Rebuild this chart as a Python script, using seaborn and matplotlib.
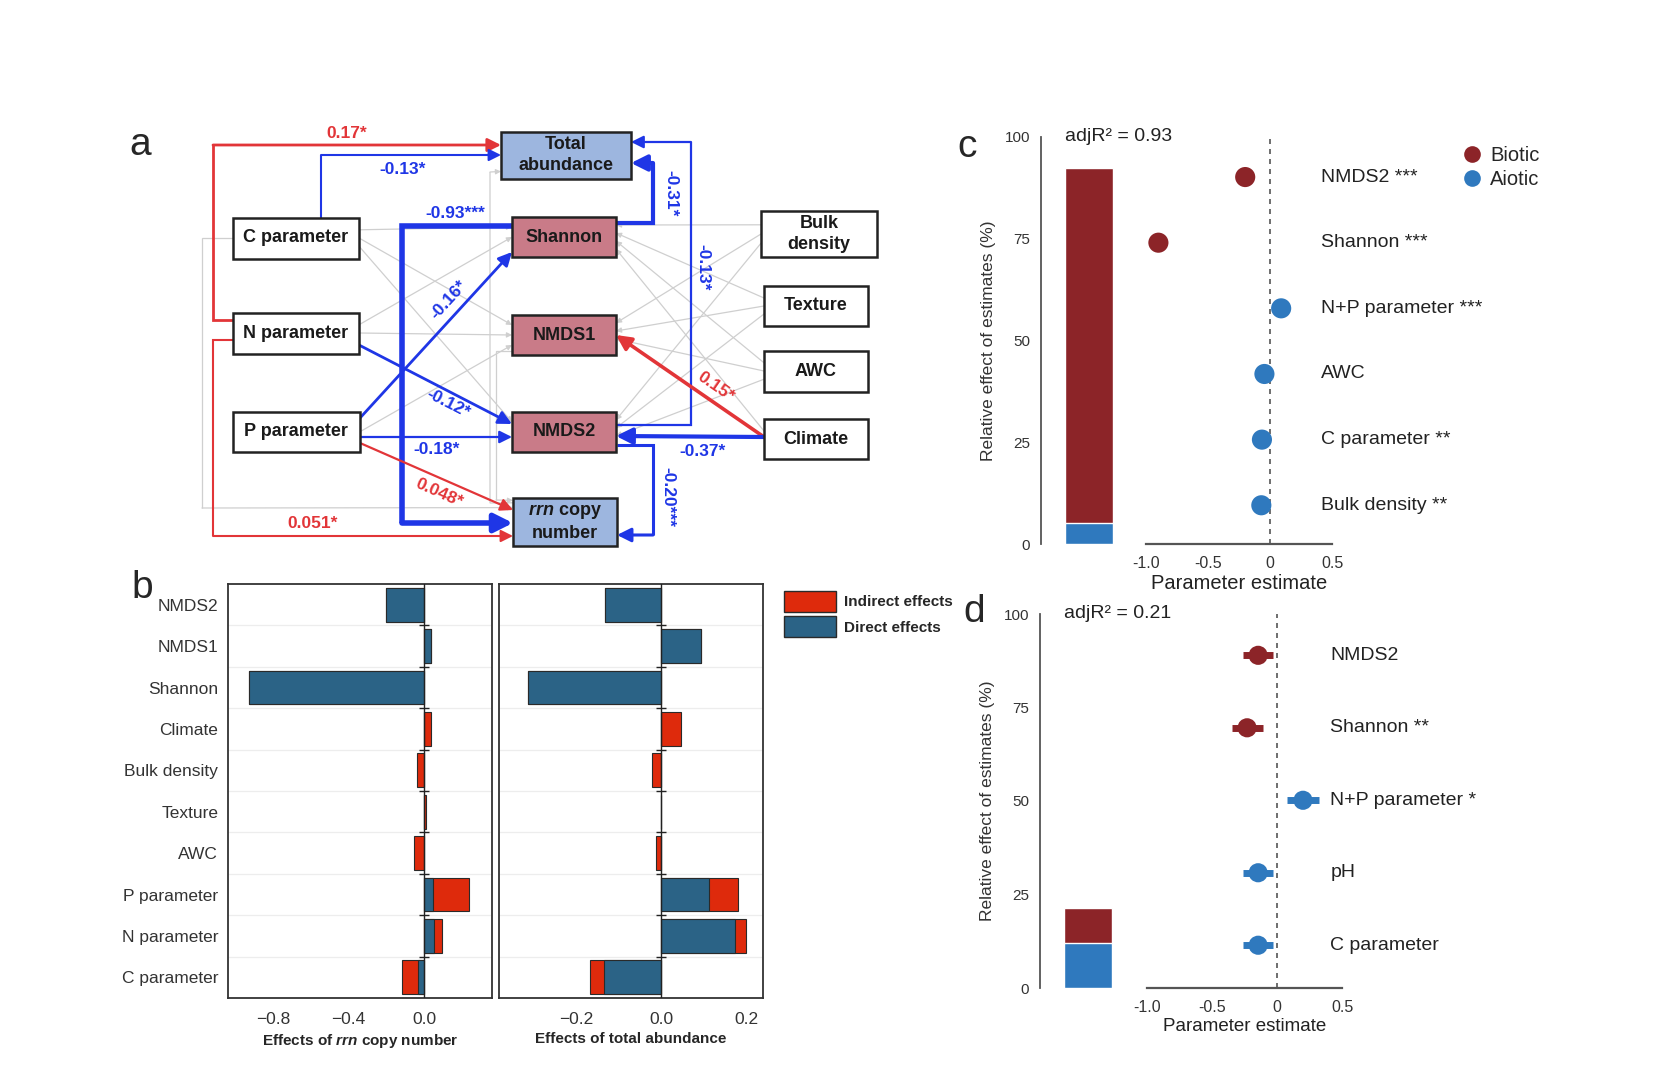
import matplotlib
matplotlib.use("Agg")
import matplotlib.pyplot as plt
import matplotlib.font_manager as fm
from matplotlib.patches import Rectangle, Patch
from matplotlib.lines import Line2D
import numpy as np
import pandas as pd
import seaborn as sns

# ---- data -------------------------------------------------------------
# panel b: direct / indirect standardized effects
factors = ["NMDS2", "NMDS1", "Shannon", "Climate", "Bulk density", "Texture",
           "AWC", "P parameter", "N parameter", "C parameter"]
rrn_direct = [-0.20, 0.037, -0.93, 0.0, 0.0, 0.0, 0.0, 0.048, 0.051, -0.033]
rrn_indirect = [0.0, 0.0, 0.0, 0.035, -0.04, 0.012, -0.055, 0.19, 0.045, -0.085]
abund_direct = [-0.131, 0.094, -0.313, 0.0, 0.0, 0.0, 0.0, 0.113, 0.174, -0.134]
abund_indirect = [0.0, 0.0, 0.0, 0.047, -0.02, 0.001, -0.011, 0.069, 0.026, -0.033]

# panel c: model of rrn copy number
c_labels = ["NMDS2 ***", "Shannon ***", "N+P parameter ***", "AWC",
            "C parameter **", "Bulk density **"]
c_group = ["Biotic", "Biotic", "Aiotic", "Aiotic", "Aiotic", "Aiotic"]
c_est = [-0.20, -0.90, 0.09, -0.045, -0.065, -0.07]
c_err = [0.03, 0.03, 0.03, 0.03, 0.03, 0.03]
c_share = {"Biotic": 87.3, "Aiotic": 5.2}
c_r2 = "0.93"

# panel d: model of total abundance
d_labels = ["NMDS2", "Shannon **", "N+P parameter *", "pH", "C parameter"]
d_group = ["Biotic", "Biotic", "Aiotic", "Aiotic", "Aiotic"]
d_est = [-0.145, -0.23, 0.20, -0.145, -0.145]
d_err = [0.115, 0.12, 0.12, 0.115, 0.115]
d_share = {"Biotic": 9.4, "Aiotic": 12.0}
d_r2 = "0.21"

# panel a: path coefficients (src, dst, label, sign)
sig_paths = [
    ("N parameter", "Total abundance", "0.17*", "pos"),
    ("N parameter", "rrn copy number", "0.051*", "pos"),
    ("C parameter", "Total abundance", "-0.13*", "neg"),
    ("Shannon", "rrn copy number", "-0.93***", "neg"),
    ("P parameter", "Shannon", "-0.16*", "neg"),
    ("N parameter", "NMDS2", "-0.12*", "neg"),
    ("P parameter", "NMDS2", "-0.18*", "neg"),
    ("P parameter", "rrn copy number", "0.048*", "pos"),
    ("Shannon", "Total abundance", "-0.31*", "neg"),
    ("NMDS2", "Total abundance", "-0.13*", "neg"),
    ("Climate", "NMDS1", "0.15*", "pos"),
    ("Climate", "NMDS2", "-0.37*", "neg"),
    ("NMDS2", "rrn copy number", "-0.20***", "neg"),
]

# ---- style --------------------------------------------------------------
sns.set_style("white")
plt.rcParams["font.family"] = ["Liberation Sans", "DejaVu Sans"]
plt.rcParams["mathtext.fontset"] = "custom"
plt.rcParams["mathtext.it"] = "Liberation Sans:italic:bold"
plt.rcParams["mathtext.rm"] = "Liberation Sans:bold"

installed = {f.name for f in fm.fontManager.ttflist}
NARROW = "Liberation Sans Narrow" if "Liberation Sans Narrow" in installed else "Liberation Sans"

RED_B = "#DE2A0C"
BLUE_B = "#2B6386"
BIOTIC = "#8C2428"
ABIOTIC = "#2F79BE"
LINE_BLUE = "#1F36E6"
LINE_RED = "#E23538"
BOX_BLUE = "#9DB6DF"
BOX_RED = "#C97B88"
GREY = "#CFCFCF"

W, H = 1672, 1080
fig = plt.figure(figsize=(W / 100, H / 100), dpi=100)


def px_rect(x0, y0, x1, y1):
    return [x0 / W, 1 - y1 / H, (x1 - x0) / W, (y1 - y0) / H]


# ---- panel a: path diagram ---------------------------------------------
ax_a = fig.add_axes([0, 0, 1, 1])
ax_a.set_xlim(0, W)
ax_a.set_ylim(H, 0)
ax_a.axis("off")

# layout: centre x, centre y, width, height (pixels)
node_box = {
    "Total abundance": (566, 155, 130, 47),
    "Shannon": (564, 237, 104, 40),
    "NMDS1": (564, 335, 104, 40),
    "NMDS2": (564, 432, 104, 40),
    "rrn copy number": (565, 522, 104, 48),
    "C parameter": (296, 238, 126, 41),
    "N parameter": (296, 333, 126, 41),
    "P parameter": (296, 432, 127, 40),
    "Bulk density": (819, 234, 116, 46),
    "Texture": (816, 306, 104, 40),
    "AWC": (816, 371, 104, 41),
    "Climate": (816, 439, 104, 40),
}
node_fill = {"Total abundance": BOX_BLUE, "rrn copy number": BOX_BLUE,
             "Shannon": BOX_RED, "NMDS1": BOX_RED, "NMDS2": BOX_RED}
node_text = {"Total abundance": "Total\nabundance",
             "rrn copy number": "$\\it{rrn}$ copy\nnumber",
             "Bulk density": "Bulk\ndensity"}


def side(node, s, f=0.5):
    cx, cy, w, h = node_box[node]
    if s == "L":
        return (cx - w / 2, cy - h / 2 + f * h)
    if s == "R":
        return (cx + w / 2, cy - h / 2 + f * h)
    if s == "T":
        return (cx - w / 2 + f * w, cy - h / 2)
    return (cx - w / 2 + f * w, cy + h / 2)


def draw_path(pts, color, lw, ms, z=2):
    xs, ys = zip(*pts)
    if len(pts) > 2:
        ax_a.plot(xs[:-1], ys[:-1], color=color, lw=lw, zorder=z,
                  solid_joinstyle="miter", solid_capstyle="butt")
    ax_a.annotate("", xy=pts[-1], xytext=pts[-2], zorder=z,
                  arrowprops=dict(arrowstyle="-|>,head_length=0.5,head_width=0.25",
                                  color=color, lw=lw, shrinkA=0, shrinkB=0,
                                  mutation_scale=ms))


# non significant paths (grey)
left_src = ["C parameter", "N parameter", "P parameter"]
right_src = ["Bulk density", "Texture", "AWC", "Climate"]
mid = ["Shannon", "NMDS1", "NMDS2"]
sig_pairs = {(s, d) for s, d, _, _ in sig_paths}
for i, s in enumerate(left_src):
    for j, d in enumerate(mid):
        if (s, d) in sig_pairs:
            continue
        draw_path([side(s, "R", 0.3 + 0.2 * j), side(d, "L", 0.25 + 0.25 * i)], GREY, 0.9, 6, z=1)
for i, s in enumerate(right_src):
    for j, d in enumerate(mid):
        if (s, d) in sig_pairs:
            continue
        draw_path([side(s, "L", 0.3 + 0.2 * j), side(d, "R", 0.2 + 0.2 * i)], GREY, 0.9, 6, z=1)
draw_path([side("C parameter", "L", 0.5), (202, 238), (202, 508), side("rrn copy number", "L", 0.2)], GREY, 0.9, 6, z=1)
draw_path([side("rrn copy number", "L", 0.1), (490, 503), (490, 172), side("Total abundance", "L", 0.85)], GREY, 0.9, 6, z=1)
draw_path([side("NMDS1", "L", 0.9), (496, 351), (496, 500), side("rrn copy number", "L", 0.05)], GREY, 0.9, 6, z=1)

# significant paths: route, label position, rotation, width
routes = {
    ("N parameter", "Total abundance"): ([(233, 320), (213, 320), (213, 145), (501, 145)], (347, 133), 0, 2.0),
    ("N parameter", "rrn copy number"): ([(233, 340), (213, 340), (213, 536), (513, 536)], (313, 524), 0, 1.5),
    ("C parameter", "Total abundance"): ([(321, 218), (321, 155), (501, 155)], (403, 169), 0, 1.5),
    ("Shannon", "rrn copy number"): ([(512, 226), (402, 226), (402, 523), (513, 523)], (455, 214), 0, 4.0),
    ("P parameter", "Shannon"): ([(360, 418), (512, 252)], (449, 300), 47.5, 2.0),
    ("N parameter", "NMDS2"): ([(359, 345), (512, 424)], (448, 404), -27, 2.0),
    ("P parameter", "NMDS2"): ([(360, 437), (512, 437)], (437, 449), 0, 1.6),
    ("P parameter", "rrn copy number"): ([(360, 443), (513, 510)], (439, 493), -24, 1.6),
    ("Shannon", "Total abundance"): ([(616, 223), (653, 223), (653, 163), (631, 163)], (671, 193), -90, 3.0),
    ("NMDS2", "Total abundance"): ([(616, 425), (691, 425), (691, 142), (631, 142)], (703, 267), -90, 1.6),
    ("Climate", "NMDS1"): ([(764, 437), (616, 335)], (716, 387), -34.6, 2.6),
    ("Climate", "NMDS2"): ([(764, 437), (616, 436)], (703, 451), 0, 3.0),
    ("NMDS2", "rrn copy number"): ([(617, 445), (653, 445), (653, 535), (617, 535)], (668, 497), -90, 2.2),
}
for s, d, lab, sign in sig_paths:
    pts, lpos, rot, lw = routes[(s, d)]
    col = LINE_RED if sign == "pos" else LINE_BLUE
    draw_path(pts, col, lw, 10 + 3 * lw, z=3)
    ax_a.text(lpos[0], lpos[1], lab, color=col, fontsize=12.5, fontweight="bold",
              rotation=rot, rotation_mode="anchor" if rot else "default",
              ha="center", va="center", zorder=6)

for name, (cx, cy, w, h) in node_box.items():
    ax_a.add_patch(Rectangle((cx - w / 2, cy - h / 2), w, h, facecolor=node_fill.get(name, "white"),
                             edgecolor="#222222", lw=1.8, zorder=5))
    ax_a.text(cx, cy, node_text.get(name, name), ha="center", va="center", fontsize=13,
              fontweight="bold", color="#1a1a1a", linespacing=1.25, zorder=6)

# panel letters
ax_a.text(140, 145, "a", fontsize=28, ha="center", va="center")
ax_a.text(142, 588, "b", fontsize=28, ha="center", va="center")
ax_a.text(967, 147, "c", fontsize=28, ha="center", va="center")
ax_a.text(974, 612, "d", fontsize=28, ha="center", va="center")

# ---- panel b: direct / indirect effects --------------------------------
def effect_panel(ax, direct, indirect, xlim, major, minor, xlabel, show_y):
    df = pd.DataFrame({"factor": factors, "direct": direct, "indirect": indirect})
    df["total"] = df["direct"] + df["indirect"]
    ax.hlines(np.arange(0.5, len(factors) - 1), xlim[0], xlim[1], color="#EDEDED", lw=0.9, zorder=0)
    sns.barplot(data=df, x="total", y="factor", order=factors, orient="h", color=RED_B,
                saturation=1, edgecolor="#2a2a2a", linewidth=0.8, width=0.82, errorbar=None, ax=ax)
    sns.barplot(data=df, x="direct", y="factor", order=factors, orient="h", color=BLUE_B,
                saturation=1, edgecolor="#2a2a2a", linewidth=0.8, width=0.82, errorbar=None, ax=ax)
    ax.axvline(0, color="#222222", lw=1.0, zorder=3)
    ax.plot(np.zeros(len(factors) - 1), np.arange(0.5, len(factors) - 1), ls="none",
            marker="_", ms=7, mew=1.0, color="#222222", zorder=4)
    ax.set_xlim(*xlim)
    ax.set_ylim(len(factors) - 0.5, -0.5)
    ax.set_xticks(major)
    ax.set_xticklabels([f"{v:.1f}".replace("-", "\u2212") for v in major], fontsize=12.5, color="#333333")
    ax.set_xticks(minor, minor=True)
    ax.tick_params(axis="x", which="major", length=5, width=1, color="#333333", pad=5)
    ax.tick_params(axis="x", which="minor", length=3, width=0.8, color="#333333")
    ax.tick_params(axis="y", length=0, pad=7, labelsize=12.5, labelcolor="#333333")
    if not show_y:
        ax.set_yticklabels([])
    ax.set_ylabel("")
    ax.set_xlabel(xlabel, fontsize=11, fontweight="bold", labelpad=4)
    for sp in ax.spines.values():
        sp.set_visible(True)
        sp.set_color("#333333")
        sp.set_linewidth(1.3)


ax_b1 = fig.add_axes(px_rect(228, 584, 492, 998))
effect_panel(ax_b1, rrn_direct, rrn_indirect, (-1.04, 0.36), [-0.8, -0.4, 0.0],
             np.arange(-1.0, 0.36, 0.1), "Effects of $\\it{rrn}$ copy number", True)
ax_b2 = fig.add_axes(px_rect(499, 584, 763, 998))
effect_panel(ax_b2, abund_direct, abund_indirect, (-0.381, 0.24), [-0.2, 0.0, 0.2],
             np.arange(-0.35, 0.24, 0.05), "Effects of total abundance", False)

fig.legend(handles=[Patch(facecolor=RED_B, edgecolor="#2a2a2a", label="Indirect effects"),
                    Patch(facecolor=BLUE_B, edgecolor="#2a2a2a", label="Direct effects")],
           loc="upper left", bbox_to_anchor=(778 / W, 1 - 585 / H), frameon=False,
           prop={"weight": "bold", "size": 11}, handlelength=3.4, handleheight=1.7,
           handletextpad=0.5, labelspacing=0.3, borderaxespad=0)

# ---- panels c / d: relative importance --------------------------------
palette = {"Biotic": BIOTIC, "Aiotic": ABIOTIC}


def importance_panel(bar_rect, pt_rect, labels, groups, est, err, share, r2,
                     xlabel_size, ylim, dot, elw):
    axb = fig.add_axes(bar_rect)
    total = share["Biotic"] + share["Aiotic"]
    sns.barplot(x=["all"], y=[total], color=BIOTIC, saturation=1, width=0.8, ax=axb)
    sns.barplot(x=["all"], y=[share["Aiotic"]], color=ABIOTIC, saturation=1, width=0.8, ax=axb)
    axb.set_xlim(-0.8, 0.8)
    axb.set_ylim(0, 100)
    axb.set_yticks([0, 25, 50, 75, 100])
    axb.tick_params(axis="y", length=5, width=1.2, color="#555555", labelsize=11,
                    labelcolor="#333333", pad=3)
    axb.set_xticks([])
    axb.set_xlabel("")
    axb.set_ylabel("Relative effect of estimates (%)", fontsize=12.5, color="#333333",
                   family=NARROW, labelpad=6)
    sns.despine(ax=axb, bottom=True)
    axb.spines["left"].set_color("#555555")
    axb.spines["left"].set_linewidth(1.3)
    axb.text(0.25, 1.0, f"adjR\u00b2 = {r2}", transform=axb.transAxes, fontsize=14,
             family=NARROW, ha="left", va="center", color="#222222")

    axp = fig.add_axes(pt_rect)
    pos = np.arange(len(labels))
    for p, e, s, g in zip(pos, est, err, groups):
        axp.errorbar(e, p, xerr=s, fmt="none", ecolor=palette[g], elinewidth=elw, capsize=0,
                     clip_on=False, zorder=2)
    sns.scatterplot(x=est, y=pos, hue=groups, palette=palette, s=dot, linewidth=0,
                    legend=False, ax=axp, zorder=3, clip_on=False)
    axp.axvline(0, color="#555555", ls=(0, (3, 3)), lw=1.2, zorder=1)
    for p, lab in zip(pos, labels):
        axp.text(0.41, p, lab, fontsize=14, family=NARROW, ha="left", va="center",
                 color="#222222", clip_on=False)
    axp.set_xlim(-1.0, 0.5)
    axp.set_ylim(*ylim)
    axp.set_xticks([-1.0, -0.5, 0, 0.5])
    axp.set_xticklabels(["-1.0", "-0.5", "0", "0.5"], fontsize=11.5, family=NARROW, color="#333333")
    axp.tick_params(axis="x", length=5, width=1.2, color="#555555", pad=4)
    axp.set_yticks([])
    sns.despine(ax=axp, left=True)
    axp.spines["bottom"].set_color("#555555")
    axp.spines["bottom"].set_linewidth(1.6)
    axp.set_xlabel("Parameter estimate", fontsize=xlabel_size, family=NARROW, color="#222222",
                   labelpad=2)
    axp.patch.set_alpha(0)
    return axb, axp


importance_panel(px_rect(1041, 137, 1137, 544), px_rect(1146, 137, 1332, 544),
                 c_labels, c_group, c_est, c_err, c_share, c_r2, 14.5, (5.59, -0.61), 210, 3)
importance_panel(px_rect(1040, 614, 1136, 988), px_rect(1147, 614, 1342, 988),
                 d_labels, d_group, d_est, d_err, d_share, d_r2, 13.5, (4.59, -0.57), 190, 5)

fig.legend(handles=[Line2D([], [], ls="none", marker="o", ms=12, mec="none", mfc=BIOTIC, label="Biotic"),
                    Line2D([], [], ls="none", marker="o", ms=12, mec="none", mfc=ABIOTIC, label="Aiotic")],
           loc="upper left", bbox_to_anchor=(1454 / W, 1 - 138 / H), frameon=False,
           prop={"family": NARROW, "size": 14.5}, handlelength=1.0, handletextpad=0.4,
           labelspacing=0.25, borderaxespad=0)

fig.savefig("out.png", dpi=100, facecolor="white")
